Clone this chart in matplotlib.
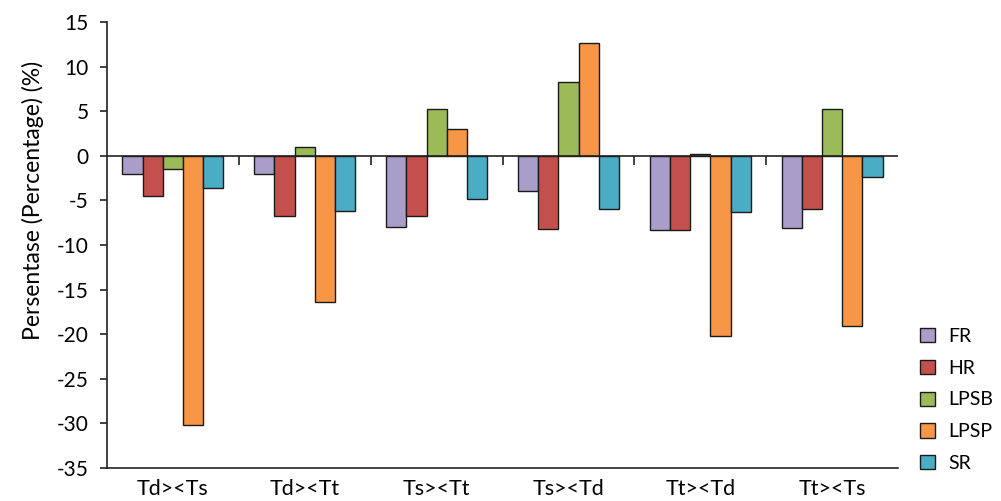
import matplotlib
matplotlib.use("Agg")
import matplotlib.pyplot as plt
import numpy as np

plt.rcParams['font.family'] = ['Lato', 'DejaVu Sans']
plt.rcParams['axes.unicode_minus'] = False

groups = ["Td><Ts", "Td><Tt", "Ts><Tt", "Ts><Td", "Tt><Td", "Tt><Ts"]
series = ["FR", "HR", "LPSB", "LPSP", "SR"]
fr = [-2.0, -2.0, -8.0, -4.0, -8.3, -8.1]
hr = [-4.5, -6.7, -6.7, -8.2, -8.3, -6.0]
lpsb = [-1.5, 1.0, 5.2, 8.3, 0.2, 5.2]
lpsp = [-30.2, -16.4, 3.0, 12.6, -20.2, -19.1]
sr = [-3.6, -6.2, -4.8, -6.0, -6.3, -2.4]
colors = ["#a99dca", "#c4504e", "#9bbb59", "#f79646", "#4bacc6"]

fig = plt.figure(figsize=(10.01, 5.01), dpi=100)
ax = fig.add_axes([0.1069, 0.0659, 0.7902, 0.8902])

x = np.arange(len(groups))
w = 0.153
for i, (name, vals) in enumerate(zip(series, [fr, hr, lpsb, lpsp, sr])):
    ax.bar(x + (i - 2) * w, vals, w, color=colors[i], edgecolor="#1a1a1a",
           linewidth=1.0, label=name, zorder=2)

ax.axhline(0, color="#222222", linewidth=1.2, zorder=3)
ax.vlines(x[:-1] + 0.5, -1.0, 0, color="#222222", linewidth=1.2, zorder=3)

ax.set_xlim(-0.5, 5.5)
ax.set_ylim(-35, 15)
ax.set_yticks(np.arange(-35, 16, 5))
ax.set_xticks(x)
ax.set_xticklabels(groups)
ax.tick_params(axis="x", length=0, pad=8, labelsize=15.5)
ax.tick_params(axis="y", length=5, width=1.2, pad=8, labelsize=15, color="#222222")
for s in ["top", "right"]:
    ax.spines[s].set_visible(False)
for s in ["left", "bottom"]:
    ax.spines[s].set_linewidth(1.2)
    ax.spines[s].set_color("#222222")
ax.set_ylabel("Persentase (Percentage) (%)", fontsize=16.5)
ax.yaxis.set_label_coords(-0.08, 0.6)

fig.legend(loc="center left", bbox_to_anchor=(0.919, 0.2016), frameon=False,
           fontsize=14, handlelength=0.75, handleheight=0.75, handletextpad=0.7,
           labelspacing=0.76, borderpad=0, borderaxespad=0)

fig.savefig("out.png", dpi=100)
